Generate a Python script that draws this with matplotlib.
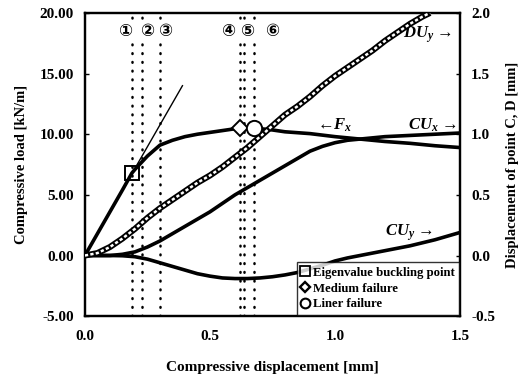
import matplotlib
matplotlib.use("Agg")
import matplotlib.pyplot as plt
from matplotlib.lines import Line2D

# Compressive displacement [mm] and the measured responses
disp_f = [0.0, 0.05, 0.10, 0.15, 0.188, 0.20, 0.25, 0.30, 0.35, 0.40, 0.45, 0.50,
          0.55, 0.60, 0.62, 0.68, 0.75, 0.80, 0.90, 1.00, 1.10, 1.20, 1.30, 1.40, 1.50]
load_f = [0.0, 1.8, 3.6, 5.4, 6.8, 7.1, 8.2, 9.1, 9.5, 9.8, 10.0, 10.15,
          10.3, 10.45, 10.5, 10.5, 10.35, 10.2, 10.05, 9.8, 9.6, 9.4, 9.25, 9.05, 8.9]

disp_du = [0.0, 0.05, 0.10, 0.15, 0.20, 0.25, 0.30, 0.35, 0.40, 0.45, 0.50, 0.55, 0.60,
           0.65, 0.70, 0.75, 0.80, 0.85, 0.90, 0.95, 1.00, 1.05, 1.10, 1.15, 1.20, 1.25,
           1.30, 1.35, 1.38]
du_y = [0.0, 0.02, 0.07, 0.14, 0.22, 0.31, 0.39, 0.46, 0.53, 0.60, 0.66, 0.73, 0.81,
        0.89, 0.98, 1.07, 1.16, 1.23, 1.31, 1.40, 1.48, 1.55, 1.62, 1.69, 1.77, 1.84,
        1.91, 1.97, 2.0]

disp_cu = [0.0, 0.05, 0.10, 0.15, 0.20, 0.25, 0.30, 0.35, 0.40, 0.45, 0.50, 0.55, 0.60,
           0.65, 0.70, 0.75, 0.80, 0.85, 0.90, 0.95, 1.00, 1.05, 1.10, 1.20, 1.30, 1.40, 1.50]
cu_x = [0.0, 0.0, 0.0, 0.01, 0.03, 0.07, 0.12, 0.18, 0.24, 0.30, 0.36, 0.43, 0.50,
        0.56, 0.62, 0.68, 0.74, 0.80, 0.86, 0.90, 0.93, 0.95, 0.96, 0.98, 0.99, 1.0, 1.01]
cu_y = [0.0, 0.0, 0.0, -0.002, -0.01, -0.03, -0.06, -0.09, -0.12, -0.15, -0.17, -0.185, -0.19,
        -0.19, -0.185, -0.175, -0.16, -0.14, -0.11, -0.08, -0.045, -0.02, 0.0, 0.04, 0.08, 0.13, 0.19]

# initial stiffness line, eigenvalue buckling point and failure points
tangent_x = [0.0, 0.39]
tangent_y = [0.0, 14.0]
buckling_pt = (0.188, 6.8)
medium_fail = (0.62, 10.5)
liner_fail = (0.678, 10.5)

# events marked with vertical dotted lines
event_x = [0.188, 0.228, 0.30, 0.62, 0.636, 0.678]
event_lbl = ["①", "②", "③", "④", "⑤", "⑥"]
event_lbl_x = [0.16, 0.248, 0.32, 0.572, 0.648, 0.748]

serif = "Liberation Serif"
plt.rcParams["font.family"] = serif
plt.rcParams["font.weight"] = "bold"
plt.rcParams["mathtext.fontset"] = "custom"
plt.rcParams["mathtext.it"] = "Liberation Serif:italic:bold"
plt.rcParams["mathtext.rm"] = "Liberation Serif:bold"

fig = plt.figure(figsize=(5.21, 3.80), dpi=100)
ax = fig.add_axes([0.163, 0.168, 0.720, 0.798])
ax2 = ax.twinx()

ax.set_xlim(0, 1.5)
ax.set_ylim(-5, 20)
ax2.set_ylim(-0.5, 2.0)

# vertical event lines, broken where the numbers sit
dots = dict(color="black", lw=1.8, ls=(0, (0.3, 3.2)), dash_capstyle="round", zorder=1)
for x in event_x:
    ax.plot([x, x], [-5, 17.4], **dots)
    ax.plot([x, x], [19.55, 20], **dots)
for x, s in zip(event_lbl_x, event_lbl):
    ax.text(x, 18.5, s, ha="center", va="center", fontsize=12,
            family=["DejaVu Sans"], fontweight="bold")

# load curve (left axis)
ax.plot(tangent_x, tangent_y, color="black", lw=1.0, zorder=3)
ax.plot(disp_f, load_f, color="black", lw=2.6, zorder=4)

# displacement curves (right axis)
ax2.set_zorder(ax.get_zorder() + 1)
ax2.patch.set_visible(False)
ax2.plot(disp_cu, cu_x, color="black", lw=2.6, zorder=4)
ax2.plot(disp_cu, cu_y, color="black", lw=2.6, zorder=4)
ax2.plot(disp_du, du_y, color="black", lw=4.4, zorder=4, solid_capstyle="butt")
ax2.plot(disp_du, du_y, color="white", lw=1.8, ls=(0, (1.3, 0.9)), zorder=5)

# marker points on the load curve
ax2.plot(buckling_pt[0], buckling_pt[1] / 10, marker="s", ms=10, mfc="none", mec="black", mew=1.4, zorder=6)
ax2.plot(medium_fail[0], medium_fail[1] / 10, marker="D", ms=8, mfc="white", mec="black", mew=1.4, zorder=6)
ax2.plot(liner_fail[0], liner_fail[1] / 10, marker="o", ms=11, mfc="white", mec="black", mew=1.4, zorder=6)

# curve names
txt = dict(fontsize=12, fontweight="bold")
ax2.text(1.27, 1.82, r"$DU_y$ →", ha="left", va="center", **txt)
ax2.text(1.29, 1.07, r"$CU_x$ →", ha="left", va="center", **txt)
ax2.text(0.93, 1.07, r"←$F_x$", ha="left", va="center", **txt)
ax2.text(1.20, 0.19, r"$CU_y$ →", ha="left", va="center", **txt)

ax.set_xticks([0.0, 0.5, 1.0, 1.5])
ax.set_xticklabels(["0.0", "0.5", "1.0", "1.5"])
ax.set_yticks([-5, 0, 5, 10, 15, 20])
ax.set_yticklabels([f"{v:.2f}" for v in [-5, 0, 5, 10, 15, 20]])
ax2.set_yticks([-0.5, 0.0, 0.5, 1.0, 1.5, 2.0])
ax2.set_yticklabels([f"{v:.1f}" for v in [-0.5, 0.0, 0.5, 1.0, 1.5, 2.0]])
ax.tick_params(axis="both", direction="in", length=3, width=1, labelsize=11, pad=8)
ax.tick_params(axis="x", length=0, pad=10)
ax2.tick_params(axis="y", direction="in", length=3, width=1, labelsize=11, pad=8)

for a in (ax, ax2):
    for sp in a.spines.values():
        sp.set_linewidth(1.6)

ax.set_xlabel("Compressive displacement [mm]", fontsize=11, fontweight="bold", labelpad=13)
ax.set_ylabel("Compressive load [kN/m]", fontsize=10.5, fontweight="bold", labelpad=8)
ax2.set_ylabel("Displacement of point C, D [mm]", fontsize=10.5, fontweight="bold", labelpad=8)

handles = [
    Line2D([], [], ls="none", marker="s", ms=7, mfc="none", mec="black", mew=1.3),
    Line2D([], [], ls="none", marker="D", ms=5, mfc="white", mec="black", mew=1.7),
    Line2D([], [], ls="none", marker="o", ms=7, mfc="none", mec="black", mew=1.5),
]
leg = ax2.legend(handles, ["Eigenvalue buckling point", "Medium failure", "Liner failure"],
                 loc="lower right", frameon=True, fancybox=False,
                 borderaxespad=0.1, handlelength=0.6, handletextpad=0.3,
                 labelspacing=0.3, borderpad=0.35, prop={"family": serif, "weight": "bold", "size": 9.2})
leg.get_frame().set_edgecolor("black")
leg.get_frame().set_linewidth(1.0)
leg.set_zorder(10)

fig.savefig("out.png", dpi=100)
